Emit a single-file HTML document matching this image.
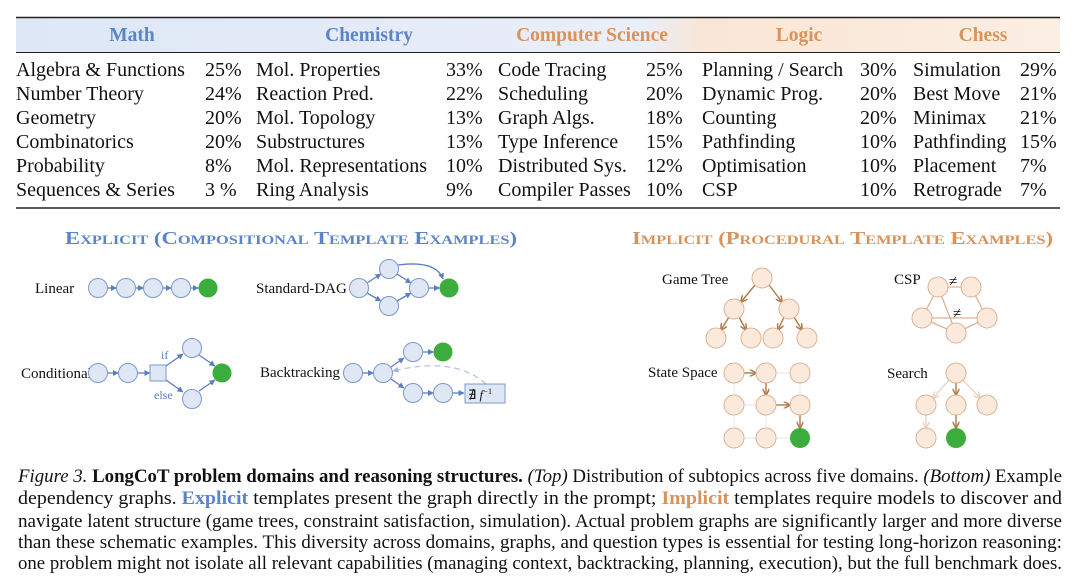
<!DOCTYPE html>
<html><head><meta charset="utf-8"><style>
html,body{margin:0;padding:0;background:#fff;}
svg{display:block;font-family:"Liberation Serif",serif;}
</style></head><body>
<svg width="1080" height="588" viewBox="0 0 1080 588" xmlns="http://www.w3.org/2000/svg">
<defs>
<linearGradient id="hg" x1="0" x2="1" y1="0" y2="0">
<stop offset="0" stop-color="#dde7f6"/><stop offset="0.6" stop-color="#eaeef8"/><stop offset="0.66" stop-color="#f9e6d6"/><stop offset="1" stop-color="#fbeee3"/>
</linearGradient>
<marker id="ab" viewBox="0 0 6 6" refX="5.5" refY="3" markerWidth="6" markerHeight="6" markerUnits="userSpaceOnUse" orient="auto"><path d="M0,0L6,3L0,6z" fill="#5b7fc4"/></marker>
<marker id="abl" viewBox="0 0 6 6" refX="5.5" refY="3" markerWidth="6" markerHeight="6" markerUnits="userSpaceOnUse" orient="auto"><path d="M0,0L6,3L0,6z" fill="#9fb3dd"/></marker>
<marker id="ao" viewBox="0 0 6 6" refX="5.5" refY="3" markerWidth="7" markerHeight="7" markerUnits="userSpaceOnUse" orient="auto"><path d="M0,0L6,3L0,6" fill="none" stroke="#b07a48" stroke-width="1.3"/></marker>
<marker id="aol" viewBox="0 0 6 6" refX="5.5" refY="3" markerWidth="7" markerHeight="7" markerUnits="userSpaceOnUse" orient="auto"><path d="M0,0L6,3L0,6" fill="none" stroke="#e6d6c8" stroke-width="1.3"/></marker>
</defs>

<rect x="16" y="18" width="1044" height="34" fill="url(#hg)"/>
<line x1="16" y1="17.5" x2="1060" y2="17.5" stroke="#222" stroke-width="1.6"/>
<line x1="16" y1="52.5" x2="1060" y2="52.5" stroke="#222" stroke-width="1"/>
<line x1="16" y1="208" x2="1060" y2="208" stroke="#222" stroke-width="1.6"/>
<g font-weight="bold" font-size="19.5" text-anchor="middle">
<text x="132" y="41" fill="#5b84c9">Math</text>
<text x="369" y="41" fill="#5b84c9">Chemistry</text>
<text x="592" y="41" fill="#d9935a">Computer Science</text>
<text x="799" y="41" fill="#d9935a">Logic</text>
<text x="983" y="41" fill="#d9935a">Chess</text>
</g>
<g font-size="20" fill="#111">
<text x="16" y="76">Algebra &amp; Functions</text><text x="205" y="76">25%</text>
<text x="16" y="100">Number Theory</text><text x="205" y="100">24%</text>
<text x="16" y="124">Geometry</text><text x="205" y="124">20%</text>
<text x="16" y="148">Combinatorics</text><text x="205" y="148">20%</text>
<text x="16" y="172">Probability</text><text x="205" y="172">8%</text>
<text x="16" y="196">Sequences &amp; Series</text><text x="205" y="196">3 %</text>

<text x="256" y="76">Mol. Properties</text><text x="446" y="76">33%</text>
<text x="256" y="100">Reaction Pred.</text><text x="446" y="100">22%</text>
<text x="256" y="124">Mol. Topology</text><text x="446" y="124">13%</text>
<text x="256" y="148">Substructures</text><text x="446" y="148">13%</text>
<text x="256" y="172">Mol. Representations</text><text x="446" y="172">10%</text>
<text x="256" y="196">Ring Analysis</text><text x="446" y="196">9%</text>

<text x="498" y="76">Code Tracing</text><text x="646" y="76">25%</text>
<text x="498" y="100">Scheduling</text><text x="646" y="100">20%</text>
<text x="498" y="124">Graph Algs.</text><text x="646" y="124">18%</text>
<text x="498" y="148">Type Inference</text><text x="646" y="148">15%</text>
<text x="498" y="172">Distributed Sys.</text><text x="646" y="172">12%</text>
<text x="498" y="196">Compiler Passes</text><text x="646" y="196">10%</text>

<text x="702" y="76">Planning / Search</text><text x="860" y="76">30%</text>
<text x="702" y="100">Dynamic Prog.</text><text x="860" y="100">20%</text>
<text x="702" y="124">Counting</text><text x="860" y="124">20%</text>
<text x="702" y="148">Pathfinding</text><text x="860" y="148">10%</text>
<text x="702" y="172">Optimisation</text><text x="860" y="172">10%</text>
<text x="702" y="196">CSP</text><text x="860" y="196">10%</text>

<text x="913" y="76">Simulation</text><text x="1020" y="76">29%</text>
<text x="913" y="100">Best Move</text><text x="1020" y="100">21%</text>
<text x="913" y="124">Minimax</text><text x="1020" y="124">21%</text>
<text x="913" y="148">Pathfinding</text><text x="1020" y="148">15%</text>
<text x="913" y="172">Placement</text><text x="1020" y="172">7%</text>
<text x="913" y="196">Retrograde</text><text x="1020" y="196">7%</text>
</g>

<text x="65" y="244" font-size="18" font-weight="bold" fill="#5b84c9" style="font-variant:small-caps" textLength="452" lengthAdjust="spacingAndGlyphs">Explicit (Compositional Template Examples)</text>
<text x="632" y="244" font-size="18" font-weight="bold" fill="#d9935a" style="font-variant:small-caps" textLength="421" lengthAdjust="spacingAndGlyphs">Implicit (Procedural Template Examples)</text>

<g font-size="15" fill="#111">
<text x="35" y="293">Linear</text>
<text x="256" y="293">Standard-DAG</text>
<text x="21" y="378">Conditional</text>
<text x="260" y="377">Backtracking</text>
<text x="662" y="284">Game Tree</text>
<text x="894" y="284">CSP</text>
<text x="648" y="377">State Space</text>
<text x="887" y="378">Search</text>
</g>

<g stroke="#5b7fc4" stroke-width="1.3" fill="none" marker-end="url(#ab)">
<line x1="107.5" y1="288" x2="116.5" y2="288"/>
<line x1="135.5" y1="288" x2="143.5" y2="288"/>
<line x1="162.5" y1="288" x2="171.5" y2="288"/>
<line x1="190.5" y1="288" x2="198.5" y2="288"/>
<line x1="367" y1="283" x2="381" y2="274"/>
<line x1="367" y1="293" x2="381" y2="301"/>
<line x1="397" y1="274" x2="411" y2="283"/>
<line x1="397" y1="301" x2="411" y2="293"/>
<line x1="428.5" y1="288" x2="439.5" y2="288"/>
<path d="M398,265 Q436,260 443,279"/>
<line x1="107.5" y1="373" x2="118.5" y2="373"/>
<line x1="137.5" y1="373" x2="150" y2="373"/>
<line x1="166" y1="366" x2="183" y2="354"/>
<line x1="166" y1="380" x2="183" y2="392"/>
<line x1="199" y1="355" x2="215" y2="366"/>
<line x1="199" y1="391" x2="215" y2="380"/>
<line x1="362.5" y1="373" x2="373.5" y2="373"/>
<line x1="391" y1="367" x2="404" y2="358"/>
<line x1="422.5" y1="352" x2="433.5" y2="352"/>
<line x1="391" y1="379" x2="404" y2="388"/>
<line x1="422.5" y1="393" x2="433.5" y2="393"/>
<line x1="452.5" y1="393" x2="464" y2="393"/>
</g>
<path d="M486,384 Q455,356 393,371" stroke="#b5c4e3" stroke-width="1.3" fill="none" stroke-dasharray="6,4" marker-end="url(#abl)"/>
<text x="161" y="359" font-size="12" fill="#5b7fc4">if</text>
<text x="154" y="399" font-size="12" fill="#5b7fc4">else</text>

<g fill="#dfe7f5" stroke="#7d98cc" stroke-width="1">
<circle cx="98" cy="288" r="9.5"/><circle cx="126" cy="288" r="9.5"/><circle cx="153" cy="288" r="9.5"/><circle cx="181" cy="288" r="9.5"/>
<circle cx="359" cy="288" r="9.5"/><circle cx="389" cy="269" r="9.5"/><circle cx="389" cy="306" r="9.5"/><circle cx="419" cy="288" r="9.5"/>
<circle cx="98" cy="373" r="9.5"/><circle cx="128" cy="373" r="9.5"/><rect x="150" y="365" width="16" height="16"/><circle cx="192" cy="348" r="9.5"/><circle cx="192" cy="399" r="9.5"/>
<circle cx="353" cy="373" r="9.5"/><circle cx="383" cy="373" r="9.5"/><circle cx="413" cy="352" r="9.5"/><circle cx="413" cy="393" r="9.5"/><circle cx="443" cy="393" r="9.5"/>
<rect x="465" y="384" width="40" height="19"/>
</g>
<g fill="#3cad3c">
<circle cx="208" cy="288" r="9.5"/><circle cx="449" cy="288" r="9.5"/><circle cx="222" cy="373" r="9.5"/><circle cx="443" cy="352" r="9.5"/>
</g>
<text x="468" y="399" font-size="13" fill="#111">∄ <tspan font-style="italic">f</tspan><tspan font-size="8.5" dy="-5">−1</tspan></text>

<g stroke="#eeeae6" stroke-width="1.2">
<line x1="734" y1="373" x2="800" y2="373"/><line x1="734" y1="405" x2="800" y2="405"/><line x1="734" y1="438" x2="800" y2="438"/>
<line x1="734" y1="373" x2="734" y2="438"/><line x1="766" y1="373" x2="766" y2="438"/><line x1="800" y1="373" x2="800" y2="438"/>
</g>
<g stroke="#d9b396" stroke-width="1.3">
<line x1="938" y1="287" x2="971" y2="287"/><line x1="938" y1="287" x2="922" y2="318"/><line x1="938" y1="287" x2="956" y2="333"/>
<line x1="922" y1="318" x2="987" y2="318"/><line x1="922" y1="318" x2="956" y2="333"/><line x1="956" y1="333" x2="987" y2="318"/><line x1="971" y1="287" x2="987" y2="318"/>
</g>
<g stroke="#b07a48" stroke-width="1.4" fill="none" marker-end="url(#ao)">
<line x1="755" y1="285" x2="741" y2="302"/><line x1="769" y1="285" x2="782" y2="302"/>
<line x1="729" y1="317" x2="721" y2="330"/><line x1="739" y1="317" x2="746" y2="330"/>
<line x1="784" y1="317" x2="778" y2="330"/><line x1="794" y1="317" x2="802" y2="330"/>
<line x1="744" y1="373" x2="756" y2="373"/><line x1="766" y1="383" x2="766" y2="395"/>
<line x1="776" y1="405" x2="790" y2="405"/><line x1="800" y1="415" x2="800" y2="428"/>
<line x1="956" y1="383" x2="956" y2="395"/><line x1="956" y1="415" x2="956" y2="428"/>
</g>
<g stroke="#e6d6c8" stroke-width="1.4" fill="none" marker-end="url(#aol)">
<line x1="949" y1="380" x2="933" y2="398"/><line x1="963" y1="380" x2="980" y2="398"/><line x1="926" y1="415" x2="926" y2="428"/>
</g>
<g fill="#fbe9dc" stroke="#d9b396" stroke-width="1">
<circle cx="762" cy="278" r="10"/><circle cx="734" cy="309" r="10"/><circle cx="789" cy="309" r="10"/>
<circle cx="716" cy="338" r="10"/><circle cx="751" cy="338" r="10"/><circle cx="773" cy="338" r="10"/><circle cx="807" cy="338" r="10"/>
<circle cx="938" cy="287" r="10"/><circle cx="971" cy="287" r="10"/><circle cx="922" cy="318" r="10"/><circle cx="987" cy="318" r="10"/><circle cx="956" cy="333" r="10"/>
<circle cx="734" cy="373" r="10"/><circle cx="766" cy="373" r="10"/><circle cx="800" cy="373" r="10"/>
<circle cx="734" cy="405" r="10"/><circle cx="766" cy="405" r="10"/><circle cx="800" cy="405" r="10"/>
<circle cx="734" cy="438" r="10"/><circle cx="766" cy="438" r="10"/>
<circle cx="956" cy="373" r="10"/><circle cx="926" cy="405" r="10"/><circle cx="956" cy="405" r="10"/><circle cx="987" cy="405" r="10"/><circle cx="926" cy="438" r="10"/>
</g>
<g fill="#3cad3c"><circle cx="800" cy="438" r="10"/><circle cx="956" cy="438" r="10"/></g>
<g font-size="15" fill="#111"><text x="949" y="286">≠</text><text x="953" y="318">≠</text></g>

<g font-size="19" fill="#111">
<text x="18" y="482" textLength="1044" lengthAdjust="spacingAndGlyphs"><tspan font-style="italic">Figure 3.</tspan> <tspan font-weight="bold">LongCoT problem domains and reasoning structures.</tspan> <tspan font-style="italic">(Top)</tspan> Distribution of subtopics across five domains. <tspan font-style="italic">(Bottom)</tspan> Example</text>
<text x="18" y="504" textLength="1044" lengthAdjust="spacingAndGlyphs">dependency graphs. <tspan font-weight="bold" fill="#5b84c9">Explicit</tspan> templates present the graph directly in the prompt; <tspan font-weight="bold" fill="#d9935a">Implicit</tspan> templates require models to discover and</text>
<text x="18" y="527" textLength="1044" lengthAdjust="spacingAndGlyphs">navigate latent structure (game trees, constraint satisfaction, simulation). Actual problem graphs are significantly larger and more diverse</text>
<text x="18" y="548" textLength="1044" lengthAdjust="spacingAndGlyphs">than these schematic examples. This diversity across domains, graphs, and question types is essential for testing long-horizon reasoning:</text>
<text x="18" y="569" textLength="1044" lengthAdjust="spacingAndGlyphs">one problem might not isolate all relevant capabilities (managing context, backtracking, planning, execution), but the full benchmark does.</text>
</g>
</svg>
</body></html>
